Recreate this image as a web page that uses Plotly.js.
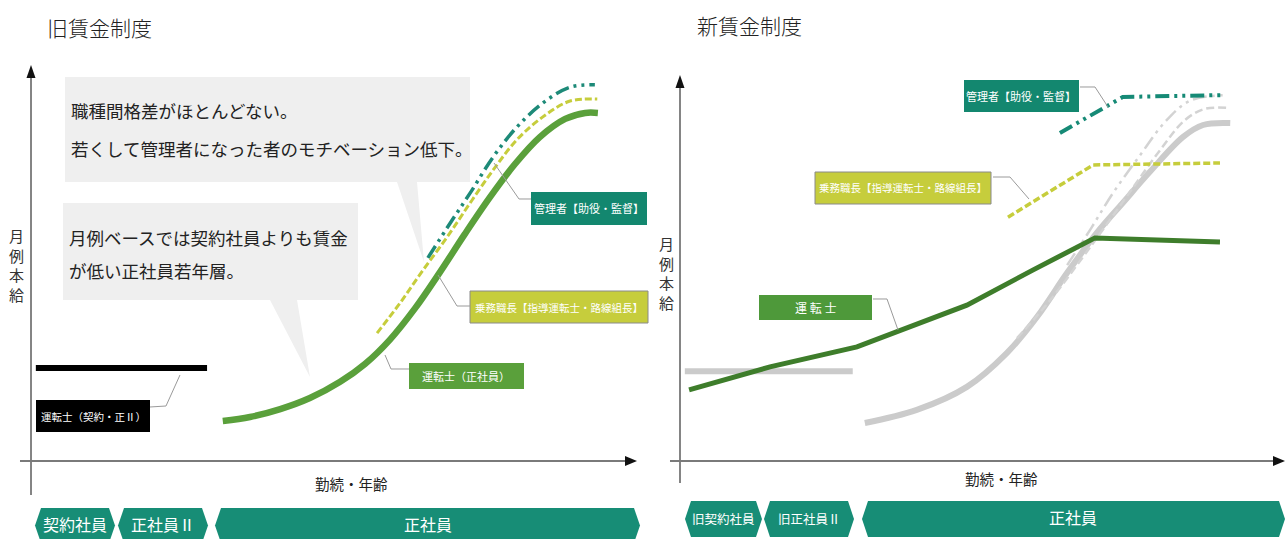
<!DOCTYPE html>
<html><head><meta charset="utf-8">
<script src="https://cdn.plot.ly/plotly-3.0.1.min.js"></script>
<style>html,body{margin:0;padding:0;background:#fff;}#chart{width:1287px;height:539px;}</style>
</head><body><div id="chart"></div>
<script>
// ---------- data (x: 勤続・年齢 0-100, y: 月例本給 0-100) ----------
// 旧賃金制度
const oldContractX = [0.8, 29.1];
const oldContractY = [23.5, 23.5];
const oldDriverX = [31.7, 36.2, 41.2, 46.1, 51.1, 55.2, 59.3, 63.5, 67.6, 71.7, 75.9, 80.0, 84.1, 88.3, 91.6, 93.7];
const oldDriverY = [10.1, 11.1, 13.1, 15.9, 20.0, 24.5, 30.6, 38.6, 47.7, 57.3, 66.7, 75.0, 81.8, 86.4, 87.9, 87.9];
const oldLeaderX = [57.2, 61.0, 64.8, 68.8, 72.6, 76.4, 80.3, 84.6, 89.1, 93.6];
const oldLeaderY = [32.3, 39.9, 48.2, 56.6, 65.2, 73.5, 81.1, 86.9, 90.9, 91.4];
const oldManagerX = [65.6, 69.3, 72.6, 76.4, 80.3, 84.6, 89.1, 93.2];
const oldManagerY = [51.3, 60.1, 67.7, 76.8, 84.3, 90.4, 94.4, 95.0];
// 新賃金制度
const newContractX = [0.8, 28.6];
const newContractY = [23.4, 23.4];
const newPrevDriverX = [30.6, 39.2, 47.5, 54.1, 59.1, 64.1, 69.0, 73.3, 77.8, 83.3, 86.6, 91.1];
const newPrevDriverY = [9.9, 13.3, 19.3, 28.1, 37.5, 49.0, 59.4, 67.2, 75.3, 84.4, 87.5, 88.0];
const newPrevLeaderX = [55.8, 61.3, 66.7, 70.0, 74.5, 79.5, 83.6, 86.9, 91.1];
const newPrevLeaderY = [32.0, 41.9, 53.1, 60.2, 70.1, 81.0, 88.8, 91.7, 91.9];
const newPrevManagerX = [64.1, 67.9, 71.7, 76.2, 80.3, 84.4, 90.2];
const newPrevManagerY = [51.0, 60.2, 69.8, 79.7, 88.3, 93.8, 95.3];
const newDriverX = [1.5, 14.9, 29.3, 39.7, 47.5, 58.4, 68.7, 89.4];
const newDriverY = [18.5, 24.5, 29.7, 35.9, 40.6, 49.7, 58.1, 57.0];
const newLeaderX = [54.3, 68.4, 89.4];
const newLeaderY = [63.5, 77.1, 77.6];
const newManagerX = [62.9, 73.3, 90.2];
const newManagerY = [85.4, 94.8, 95.3];

// ---------- text ----------
const panelTitles = ['旧賃金制度', '新賃金制度'];
const axisXLabel = '勤続・年齢';
const axisYLabel = '月例本給';
const oldBands = ['契約社員', '正社員Ⅱ', '正社員'];
const newBands = ['旧契約社員', '旧正社員Ⅱ', '正社員'];
const oldSeriesLabels = ['管理者【助役・監督】', '乗務職長【指導運転士・路線組長】', '運転士（正社員）', '運転士（契約・正Ⅱ）'];
const newSeriesLabels = ['管理者【助役・監督】', '乗務職長【指導運転士・路線組長】', '運 転 士'];
const note1 = ['職種間格差がほとんどない。', '若くして管理者になった者のモチベーション低下。'];
const note2 = ['月例ベースでは契約社員よりも賃金', 'が低い正社員若年層。'];

// ---------- helpers (layout only) ----------
const W = 1287, H = 539;
const FONT = '"Noto Sans CJK JP", "Noto Sans", sans-serif';
const P = x => x / W, Q = y => 1 - y / H;
function path(pts, close) {
  return pts.map((p, i) => (i ? 'L' : 'M') + P(p[0]).toFixed(5) + ',' + Q(p[1]).toFixed(5)).join(' ') + (close ? ' Z' : '');
}
function poly(pts, fill, layer) {
  return {type: 'path', xref: 'paper', yref: 'paper', path: path(pts, true), fillcolor: fill, line: {width: 0}, layer: layer || 'above'};
}
function seg(pts, color, width) {
  return {type: 'path', xref: 'paper', yref: 'paper', path: path(pts, false), line: {color: color || '#9a9a9a', width: width || 1}};
}
function rect(x0, y0, x1, y1, fill, border) {
  return {type: 'rect', xref: 'paper', yref: 'paper', x0: P(x0), x1: P(x1), y0: Q(y1), y1: Q(y0),
    fillcolor: fill, line: border ? {color: border, width: 1} : {width: 0}};
}
function txt(text, x, y, size, color, xanchor, weight) {
  return {text: text, xref: 'paper', yref: 'paper', x: P(x), y: Q(y), xanchor: xanchor || 'center', yanchor: 'middle',
    showarrow: false, font: {family: FONT, size: size, color: color, weight: weight || 400}};
}
function hex(x0, x1, y0, y1, p) {
  const ym = (y0 + y1) / 2;
  return [[x0 + p, y0], [x1 - p, y0], [x1, ym], [x1 - p, y1], [x0 + p, y1], [x0, ym]];
}

const TEAL = '#178d76', YEL = '#c6cd3c', GRN = '#5aa03b', DGRN = '#3e7d2b', GREY = '#cbcbcb';
const dashDot = '14px,5px,3px,5px,3px,5px';

// ---------- traces ----------
const L = {xaxis: 'x', yaxis: 'y'}, R = {xaxis: 'x2', yaxis: 'y2'};
function tr(ax, x, y, color, width, dash, shape) {
  return Object.assign({type: 'scatter', mode: 'lines', x: x, y: y, hoverinfo: 'skip',
    line: {color: color, width: width, dash: dash || 'solid', shape: shape || 'linear', smoothing: 1}}, ax);
}
const data = [
  tr(L, oldContractX, oldContractY, '#000000', 6),
  tr(L, oldDriverX, oldDriverY, GRN, 6.5, null, 'spline'),
  tr(L, oldLeaderX, oldLeaderY, YEL, 3, '7px,3px', 'spline'),
  tr(L, oldManagerX, oldManagerY, '#1d8a78', 3.5, dashDot, 'spline'),
  tr(R, newContractX, newContractY, GREY, 6),
  tr(R, newPrevDriverX, newPrevDriverY, GREY, 6, null, 'spline'),
  tr(R, newPrevLeaderX, newPrevLeaderY, '#d3d3d3', 2.5, '8px,4px', 'spline'),
  tr(R, newPrevManagerX, newPrevManagerY, '#d3d3d3', 2.5, dashDot, 'spline'),
  tr(R, newDriverX, newDriverY, DGRN, 5),
  tr(R, newLeaderX, newLeaderY, YEL, 3.5, '7px,3px'),
  tr(R, newManagerX, newManagerY, '#168a76', 4, dashDot)
];

// ---------- shapes ----------
const shapes = [
  // callout boxes (below traces)
  poly([[65, 77], [470, 77], [470, 182], [417, 182], [424, 262], [397, 182], [65, 182]], '#efefef', 'below'),
  poly([[63, 203], [358, 203], [358, 300], [297, 300], [310, 377], [270, 300], [63, 300]], '#efefef', 'below'),
  // axes left
  seg([[31, 76], [31, 495]], '#333', 1.2),
  poly([[31, 65], [35.5, 78], [26.5, 78]], '#111'),
  seg([[20, 461], [627, 461]], '#7a7a7a', 2),
  poly([[637, 461], [625, 456], [625, 466]], '#111'),
  // axes right
  seg([[680, 86], [680, 483]], '#333', 1.2),
  poly([[680, 75], [684.5, 88], [675.5, 88]], '#111'),
  seg([[670, 461], [1274, 461]], '#7a7a7a', 2),
  poly([[1285, 461], [1273, 456], [1273, 466]], '#111'),
  // bands
  poly(hex(35, 115, 508, 543, 6), TEAL),
  poly(hex(118, 208, 508, 543, 6), TEAL),
  poly(hex(215, 640, 508, 543, 6), TEAL),
  poly(hex(685, 762, 501, 537, 6), TEAL),
  poly(hex(764, 854, 501, 537, 6), TEAL),
  poly(hex(862, 1285, 501, 537, 6), TEAL),
  // label boxes left
  rect(531, 192, 647, 225, '#13876f'),
  rect(470, 291, 648, 323, YEL, '#8a8a8a'),
  rect(409, 363, 524, 389, GRN),
  rect(36, 400, 150, 432, '#000000'),
  seg([[494, 163], [519, 199], [531, 199]]),
  seg([[438, 275], [457, 306], [470, 306]]),
  seg([[385, 355], [391, 369], [409, 369]]),
  seg([[180, 375], [166, 406], [150, 407]]),
  // label boxes right
  rect(964, 80, 1079, 112, '#13876f'),
  rect(815, 172, 991, 204, YEL, '#8a8a8a'),
  rect(759, 295, 872, 320, '#4e993a'),
  seg([[1080, 87], [1095, 87], [1108, 107]]),
  seg([[993, 177], [1010, 177], [1029, 199]]),
  seg([[873, 299], [887, 299], [898, 330]])
];

// ---------- annotations ----------
const yLab = axisYLabel.split('').join('<br>');
const annotations = [
  txt(panelTitles[0], 45, 27, 21, '#222', 'left', 300),
  txt(panelTitles[1], 695, 25, 21, '#222', 'left', 300),
  txt(note1[0], 69, 110, 17.5, '#222', 'left'),
  txt(note1[1], 69, 148, 17.5, '#222', 'left'),
  txt(note2[0], 67, 237, 17.5, '#222', 'left'),
  txt(note2[1], 67, 270, 17.5, '#222', 'left'),
  txt(axisXLabel, 351, 483, 14.5, '#222'),
  txt(axisXLabel, 1002, 479, 14.5, '#222'),
  txt(yLab, 16, 265, 15, '#333'),
  txt(yLab, 666, 273, 15, '#333'),
  txt(oldBands[0], 75, 524, 16, '#fff'),
  txt(oldBands[1], 163, 524, 16, '#fff'),
  txt(oldBands[2], 428, 524, 16, '#fff'),
  txt(newBands[0], 723, 518, 12.5, '#fff'),
  txt(newBands[1], 809, 518, 12.5, '#fff'),
  txt(newBands[2], 1073, 517, 16, '#fff'),
  txt(oldSeriesLabels[0], 589, 208, 11, '#fff'),
  txt(oldSeriesLabels[1], 559, 307, 10.5, '#fff'),
  txt(oldSeriesLabels[2], 466, 376, 11, '#fff'),
  txt(oldSeriesLabels[3], 93, 416, 10.5, '#fff'),
  txt(newSeriesLabels[0], 1021, 96, 11, '#fff'),
  txt(newSeriesLabels[1], 903, 188, 10.5, '#fff'),
  txt(newSeriesLabels[2], 815, 307, 12, '#fff')
];

const hidden = {showgrid: false, zeroline: false, showticklabels: false, showline: false, ticks: '', fixedrange: true};
const layout = {
  width: W, height: H, margin: {l: 0, r: 0, t: 0, b: 0},
  paper_bgcolor: '#fff', plot_bgcolor: 'rgba(0,0,0,0)', showlegend: false,
  font: {family: FONT},
  xaxis: Object.assign({domain: [31 / W, 636 / W], range: [0, 100], anchor: 'y'}, hidden),
  yaxis: Object.assign({domain: [1 - 461 / H, 1 - 65 / H], range: [0, 100], anchor: 'x'}, hidden),
  xaxis2: Object.assign({domain: [680 / W, 1284 / W], range: [0, 100], anchor: 'y2'}, hidden),
  yaxis2: Object.assign({domain: [1 - 461 / H, 1 - 77 / H], range: [0, 100], anchor: 'x2'}, hidden),
  shapes: shapes,
  annotations: annotations
};
Plotly.newPlot('chart', data, layout, {staticPlot: true, displayModeBar: false});
</script>
</body></html>
